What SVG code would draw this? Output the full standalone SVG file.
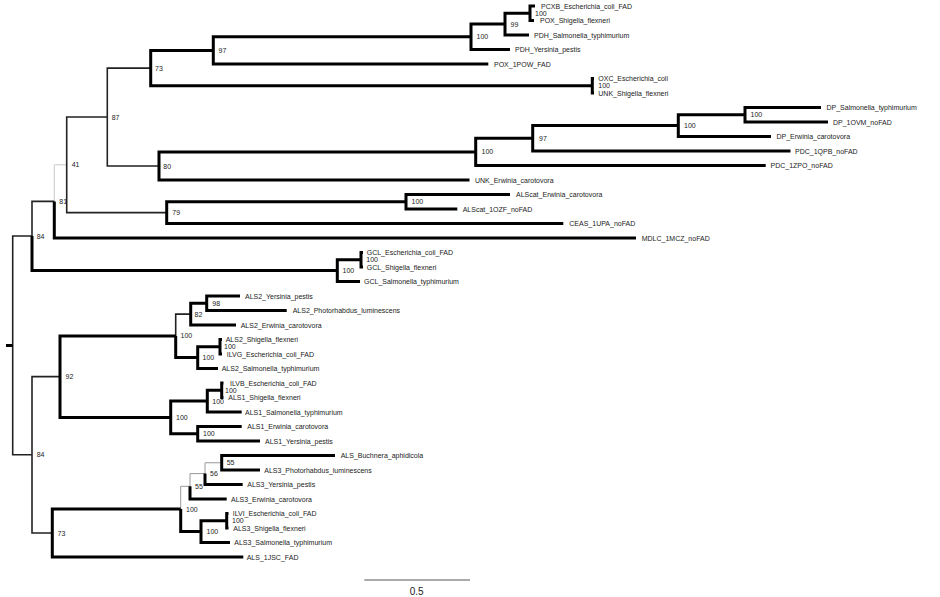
<svg xmlns="http://www.w3.org/2000/svg" width="940" height="597" viewBox="0 0 940 597">
<style>
text{font-family:"Liberation Sans",Arial,sans-serif;font-size:7px;fill:#222}
.t{fill:none;stroke:#000;stroke-width:3}
.m{fill:none;stroke:#222;stroke-width:1.6}
.g{fill:none;stroke:#c8c8c8;stroke-width:1}
.g2{fill:none;stroke:#999;stroke-width:1}
.sb{stroke:#555;stroke-width:1}
.sc{font-size:10px}
</style>
<rect width="940" height="597" fill="#fff"/>
<g id="branches">
<path class="g" d="M54.3 201.4V164.8H66.7"/>
<path class="g2" d="M180.7 509V486.3H190M190 486.3V473.6H205M205 473.6V462.75H221.7"/>
<path class="m" d="M12.7 345.4V236H32M12.7 345.4V454.8H32M32 236V201.4H54.3M66.7 164.8V117H107.3M66.7 164.8V212.6H166.7M107.3 117V68.1H150.7M107.3 117V166H159M32 454.8V376.6H60M32 454.8V533H52.3M175.7 335.9V314.1H190.7"/>
<path class="t" d="M6 345.4H12.7
M32 236V270.6H337.3
M54.3 201.4V238H636
M150.7 68.1V50.4H213.3
M150.7 68.1V85.75H592.3
M213.3 50.4V36.8H471
M213.3 50.4V64H488.3
M471 36.8V24.1H505
M471 36.8V49.5H510
M505 24.1V13.25H530
M505 24.1V35H529
M530 13.25V6H535
M530 13.25V20.5H534
M592.3 85.75V78.5H594
M592.3 85.75V93H594
M159 166V151.9H475.7
M159 166V180H469.5
M475.7 151.9V138.3H532.7
M475.7 151.9V165.5H765.7
M532.7 138.3V125.6H678.3
M532.7 138.3V151H790.5
M678.3 125.6V114.75H745
M678.3 125.6V136.5H771
M745 114.75V107.5H821
M745 114.75V122H828
M166.7 212.6V201.75H406
M166.7 212.6V223.5H563.3
M406 201.75V194.5H510
M406 201.75V209H457.3
M337.3 270.6V259.75H361
M337.3 270.6V281.5H360
M361 259.75V252.5H363
M361 259.75V267H363
M60 376.6V335.9H175.7
M60 376.6V417.4H170.7
M175.7 335.9V357.6H197.7
M190.7 314.1V303.25H206.7
M190.7 314.1V325H236
M206.7 303.25V296H240
M206.7 303.25V310.5H286.7
M197.7 357.6V346.75H220
M197.7 357.6V368.5H218
M220 346.75V339.5H222
M220 346.75V354H222
M170.7 417.4V401.1H207.3
M170.7 417.4V433.75H197.7
M207.3 401.1V390.25H221.7
M207.3 401.1V412H241.7
M221.7 390.25V383H223.5
M221.7 390.25V397.5H223.5
M197.7 433.75V426.5H241.7
M197.7 433.75V441H260
M52.3 533V509H180.7
M52.3 533V557H243.3
M180.7 509V531.6H201
M190 486.3V499H226.7
M205 473.6V484.5H242.7
M221.7 462.75V455.5H335
M221.7 462.75V470H260
M201 531.6V520.75H226.7
M201 531.6V542.5H230
M226.7 520.75V513.5H228.5
M226.7 520.75V528H228.5"/>
</g>
<g id="leaf-01"><text x="541" y="8.5">PCXB_Escherichia_coli_FAD</text></g>
<g id="leaf-02"><text x="540" y="23">POX_Shigella_flexneri</text></g>
<g id="leaf-03"><text x="534" y="37.5">PDH_Salmonella_typhimurium</text></g>
<g id="leaf-04"><text x="515" y="52">PDH_Yersinia_pestis</text></g>
<g id="leaf-05"><text x="494" y="66.5">POX_1POW_FAD</text></g>
<g id="leaf-06"><text x="598.3" y="81">OXC_Escherichia_coli</text></g>
<g id="leaf-07"><text x="598.3" y="95.5">UNK_Shigella_flexneri</text></g>
<g id="leaf-08"><text x="826.5" y="110">DP_Salmonella_typhimurium</text></g>
<g id="leaf-09"><text x="833" y="124.5">DP_1OVM_noFAD</text></g>
<g id="leaf-10"><text x="776.5" y="139">DP_Erwinia_carotovora</text></g>
<g id="leaf-11"><text x="795" y="153.5">PDC_1QPB_noFAD</text></g>
<g id="leaf-12"><text x="770.5" y="168">PDC_1ZPO_noFAD</text></g>
<g id="leaf-13"><text x="475" y="182.5">UNK_Erwinia_carotovora</text></g>
<g id="leaf-14"><text x="516" y="197">ALScat_Erwinia_carotovora</text></g>
<g id="leaf-15"><text x="462.7" y="211.5">ALScat_1OZF_noFAD</text></g>
<g id="leaf-16"><text x="569.3" y="226">CEAS_1UPA_noFAD</text></g>
<g id="leaf-17"><text x="641.7" y="240.5">MDLC_1MCZ_noFAD</text></g>
<g id="leaf-18"><text x="366.7" y="255">GCL_Escherichia_coli_FAD</text></g>
<g id="leaf-19"><text x="366.7" y="269.5">GCL_Shigella_flexneri</text></g>
<g id="leaf-20"><text x="364" y="284">GCL_Salmonella_typhimurium</text></g>
<g id="leaf-21"><text x="245" y="298.5">ALS2_Yersinia_pestis</text></g>
<g id="leaf-22"><text x="292.7" y="313">ALS2_Photorhabdus_luminescens</text></g>
<g id="leaf-23"><text x="240.7" y="327.5">ALS2_Erwinia_carotovora</text></g>
<g id="leaf-24"><text x="225.7" y="342">ALS2_Shigella_flexneri</text></g>
<g id="leaf-25"><text x="226.7" y="356.5">ILVG_Escherichia_coli_FAD</text></g>
<g id="leaf-26"><text x="221.7" y="371">ALS2_Salmonella_typhimurium</text></g>
<g id="leaf-27"><text x="230" y="385.5">ILVB_Escherichia_coli_FAD</text></g>
<g id="leaf-28"><text x="228.3" y="400">ALS1_Shigella_flexneri</text></g>
<g id="leaf-29"><text x="245" y="414.5">ALS1_Salmonella_typhimurium</text></g>
<g id="leaf-30"><text x="247.3" y="429">ALS1_Erwinia_carotovora</text></g>
<g id="leaf-31"><text x="265" y="443.5">ALS1_Yersinia_pestis</text></g>
<g id="leaf-32"><text x="340.7" y="458">ALS_Buchnera_aphidicola</text></g>
<g id="leaf-33"><text x="264.3" y="472.5">ALS3_Photorhabdus_luminescens</text></g>
<g id="leaf-34"><text x="247.3" y="487">ALS3_Yersinia_pestis</text></g>
<g id="leaf-35"><text x="231" y="501.5">ALS3_Erwinia_carotovora</text></g>
<g id="leaf-36"><text x="232.7" y="516">ILVI_Escherichia_coli_FAD</text></g>
<g id="leaf-37"><text x="233.3" y="530.5">ALS3_Shigella_flexneri</text></g>
<g id="leaf-38"><text x="234.3" y="545">ALS3_Salmonella_typhimurium</text></g>
<g id="leaf-39"><text x="246.7" y="559.5">ALS_1JSC_FAD</text></g>
<g id="node-84a"><text x="36.7" y="238.5">84</text></g>
<g id="node-81"><text x="59.3" y="203.9">81</text></g>
<g id="node-41"><text x="71.7" y="167.3">41</text></g>
<g id="node-87"><text x="111.7" y="119.5">87</text></g>
<g id="node-73a"><text x="155" y="70.6">73</text></g>
<g id="node-97a"><text x="218.5" y="52.9">97</text></g>
<g id="node-100a"><text x="476.5" y="39.3">100</text></g>
<g id="node-99"><text x="510.5" y="26.6">99</text></g>
<g id="node-100b"><text x="535" y="15.75">100</text></g>
<g id="node-100c"><text x="598.3" y="88.25">100</text></g>
<g id="node-80"><text x="163.3" y="168.5">80</text></g>
<g id="node-100d"><text x="481.5" y="154.4">100</text></g>
<g id="node-97b"><text x="539" y="140.8">97</text></g>
<g id="node-100e"><text x="684" y="128.1">100</text></g>
<g id="node-100f"><text x="750.5" y="117.25">100</text></g>
<g id="node-79"><text x="172.3" y="215.1">79</text></g>
<g id="node-100g"><text x="411.5" y="204.25">100</text></g>
<g id="node-100h"><text x="342.5" y="273.1">100</text></g>
<g id="node-100i"><text x="366.3" y="262.25">100</text></g>
<g id="node-84b"><text x="36.7" y="457.3">84</text></g>
<g id="node-92"><text x="65.5" y="379.1">92</text></g>
<g id="node-100j"><text x="180.5" y="338.4">100</text></g>
<g id="node-82"><text x="194.5" y="316.6">82</text></g>
<g id="node-98"><text x="212.3" y="305.75">98</text></g>
<g id="node-100k"><text x="202.5" y="360.1">100</text></g>
<g id="node-100l"><text x="224" y="349.25">100</text></g>
<g id="node-100m"><text x="176" y="419.9">100</text></g>
<g id="node-100n"><text x="212.3" y="403.6">100</text></g>
<g id="node-100o"><text x="225" y="392.75">100</text></g>
<g id="node-100p"><text x="203" y="436.25">100</text></g>
<g id="node-73b"><text x="57.5" y="535.5">73</text></g>
<g id="node-100q"><text x="186" y="511.5">100</text></g>
<g id="node-55a"><text x="195" y="488.8">55</text></g>
<g id="node-56"><text x="210" y="476.1">56</text></g>
<g id="node-55b"><text x="226.7" y="465.25">55</text></g>
<g id="node-100r"><text x="206.5" y="534.1">100</text></g>
<g id="node-100s"><text x="232" y="523.25">100</text></g>
<g id="scale">
<path class="sb" d="M364.3 580H470"/>
<text class="sc" x="416.7" y="595" text-anchor="middle">0.5</text>
</g>
</svg>
